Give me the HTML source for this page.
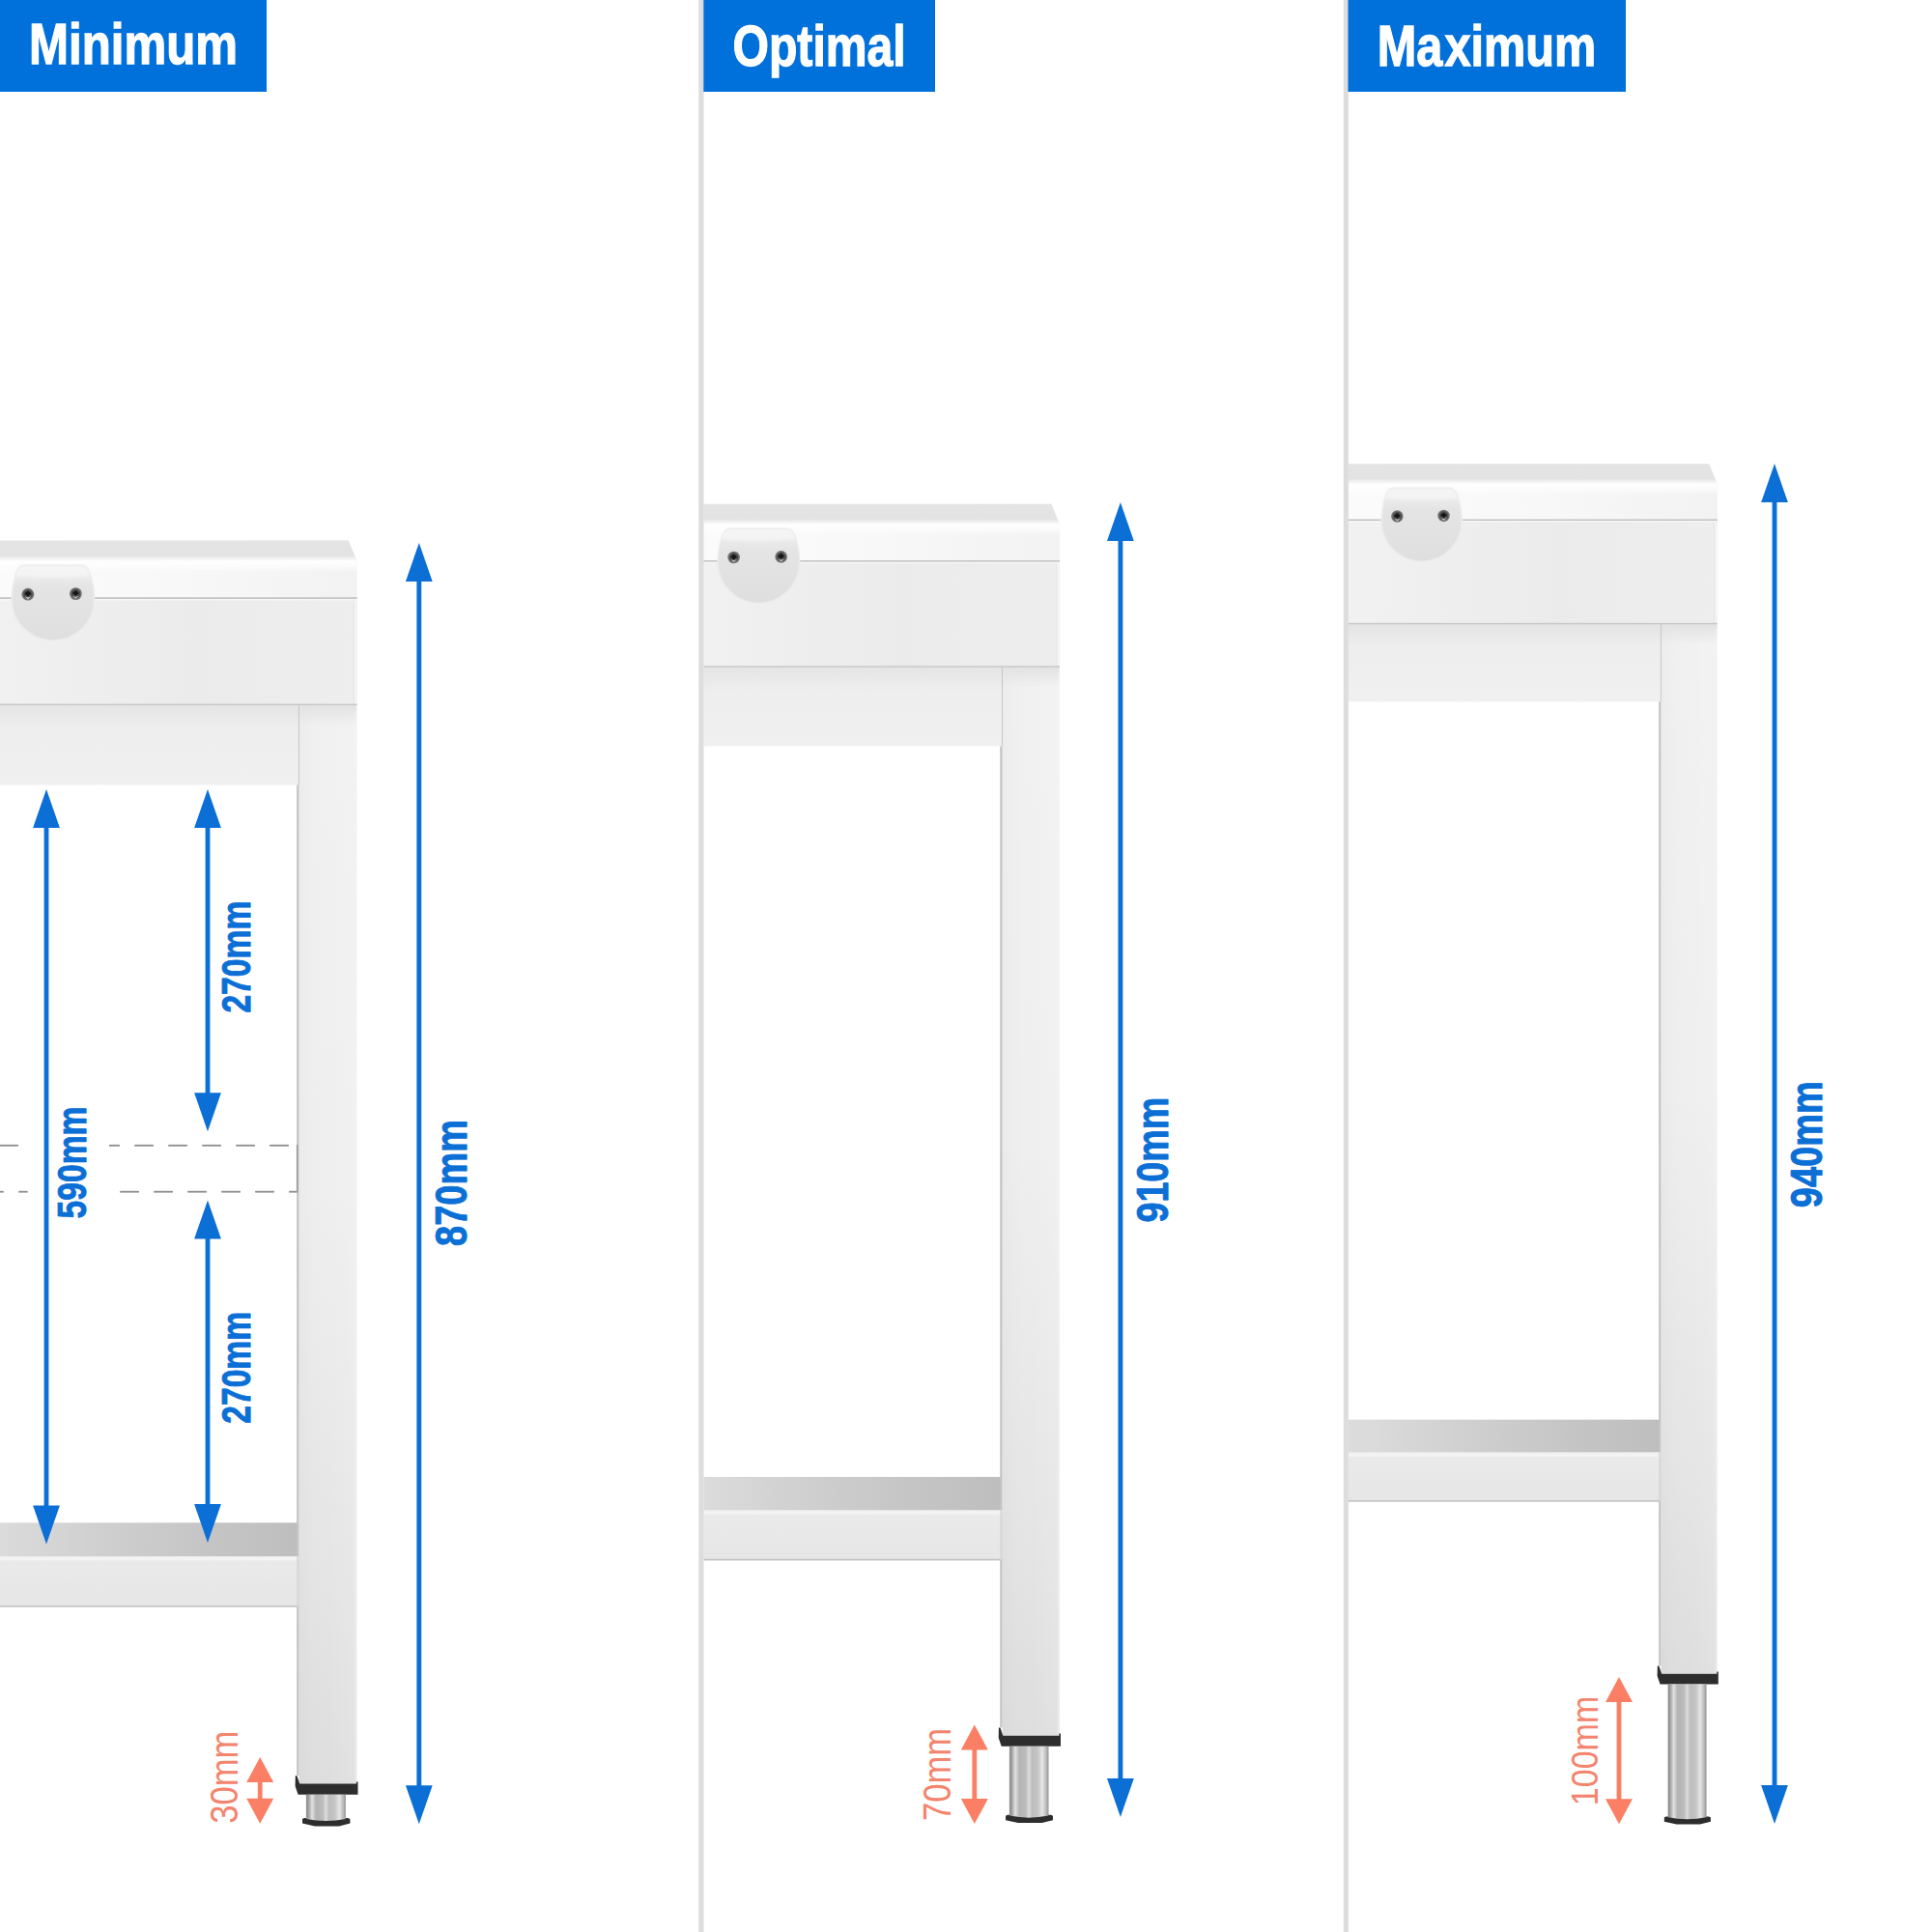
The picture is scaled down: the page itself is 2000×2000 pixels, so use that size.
<!DOCTYPE html>
<html lang="en">
<head>
<meta charset="utf-8">
<title>Table height: Minimum / Optimal / Maximum</title>
<style>
html,body{margin:0;padding:0;background:#fff;}
body{width:2000px;height:2000px;overflow:hidden;}
svg{display:block;}
text{font-family:"Liberation Sans",Arial,Helvetica,sans-serif;}
</style>
</head>
<body>
<svg width="2000" height="2000" viewBox="0 0 2000 2000">
<defs>
<clipPath id="clip0"><rect x="0" y="0" width="723" height="2000"/></clipPath>
<clipPath id="clip1"><rect x="728.4" y="0" width="662" height="2000"/></clipPath>
<clipPath id="clip2"><rect x="1395.8" y="0" width="605" height="2000"/></clipPath>
<linearGradient id="gTop" gradientUnits="userSpaceOnUse" x1="0" y1="559.4" x2="0" y2="619.5">
<stop offset="0" stop-color="#e4e4e4"/><stop offset="0.26" stop-color="#e3e3e3"/><stop offset="0.36" stop-color="#fefefe"/><stop offset="0.42" stop-color="#fefefe" stop-opacity="0.8"/><stop offset="0.55" stop-color="#fff" stop-opacity="0"/><stop offset="1" stop-color="#fff" stop-opacity="0"/>
</linearGradient>
<linearGradient id="gTopH" gradientUnits="userSpaceOnUse" x1="0" y1="0" x2="369" y2="0">
<stop offset="0" stop-color="#fbfbfb"/><stop offset="0.5" stop-color="#f8f8f8"/><stop offset="1" stop-color="#f2f2f2"/>
</linearGradient>
<linearGradient id="gPanel" gradientUnits="userSpaceOnUse" x1="0" y1="0" x2="369" y2="0">
<stop offset="0" stop-color="#f1f1f1"/><stop offset="0.55" stop-color="#ebebeb"/><stop offset="1" stop-color="#eeeeee"/>
</linearGradient>
<linearGradient id="gBeam" gradientUnits="userSpaceOnUse" x1="0" y1="729.5" x2="0" y2="812.5">
<stop offset="0" stop-color="#e4e4e4"/><stop offset="0.3" stop-color="#eeeeee"/><stop offset="1" stop-color="#f0f0f0"/>
</linearGradient>
<linearGradient id="gLeg" gradientUnits="userSpaceOnUse" x1="0" y1="729.5" x2="0" y2="1846">
<stop offset="0" stop-color="#f1f1f1"/><stop offset="0.45" stop-color="#efefef"/><stop offset="0.8" stop-color="#e5e5e5"/><stop offset="1" stop-color="#dedede"/>
</linearGradient>
<linearGradient id="gLegTop" gradientUnits="userSpaceOnUse" x1="0" y1="729.5" x2="0" y2="751.5">
<stop offset="0" stop-color="#e2e2e2"/><stop offset="1" stop-color="#e2e2e2" stop-opacity="0"/>
</linearGradient>
<linearGradient id="gLegH" gradientUnits="userSpaceOnUse" x1="309.5" y1="0" x2="369.3" y2="0">
<stop offset="0" stop-color="#000" stop-opacity="0.02"/><stop offset="0.5" stop-color="#fff" stop-opacity="0"/><stop offset="1" stop-color="#fff" stop-opacity="0.12"/>
</linearGradient>
<linearGradient id="gEdge" gradientUnits="userSpaceOnUse" x1="307.3" y1="0" x2="309.7" y2="0">
<stop offset="0" stop-color="#b4b4b4"/><stop offset="1" stop-color="#d4d4d4"/>
</linearGradient>
<linearGradient id="gShelf" gradientUnits="userSpaceOnUse" x1="0" y1="0" x2="308" y2="0">
<stop offset="0" stop-color="#dbdbdb"/><stop offset="0.35" stop-color="#cfcfcf"/><stop offset="0.7" stop-color="#c5c5c5"/><stop offset="1" stop-color="#bebebe"/>
</linearGradient>
<linearGradient id="gLBeam" gradientUnits="userSpaceOnUse" x1="0" y1="1611" x2="0" y2="1663.4">
<stop offset="0" stop-color="#ececec"/><stop offset="0.12" stop-color="#eaeaea"/><stop offset="1" stop-color="#e6e6e6"/>
</linearGradient>
<linearGradient id="gCyl" gradientUnits="userSpaceOnUse" x1="316.9" y1="0" x2="357.9" y2="0">
<stop offset="0" stop-color="#8a8a8a"/><stop offset="0.06" stop-color="#a0a0a0"/><stop offset="0.15" stop-color="#e2e2e2"/><stop offset="0.25" stop-color="#b4b4b4"/><stop offset="0.42" stop-color="#bcbcbc"/><stop offset="0.5" stop-color="#dcdcdc"/><stop offset="0.58" stop-color="#bdbdbd"/><stop offset="0.72" stop-color="#c4c4c4"/><stop offset="0.84" stop-color="#e6e6e6"/><stop offset="0.93" stop-color="#bdbdbd"/><stop offset="1" stop-color="#959595"/>
</linearGradient>
<linearGradient id="gBr" gradientUnits="userSpaceOnUse" x1="0" y1="585" x2="0" y2="663">
<stop offset="0" stop-color="#f2f2f2"/><stop offset="0.3" stop-color="#e4e4e4"/><stop offset="1" stop-color="#dfdfdf"/>
</linearGradient>
<filter id="fBlur" x="-10%" y="-10%" width="120%" height="120%"><feGaussianBlur stdDeviation="0.7"/></filter>
<filter id="fBlur2" x="-10%" y="-30%" width="120%" height="160%"><feGaussianBlur stdDeviation="1.5"/></filter>
</defs>
<rect x="0" y="0" width="2000" height="2000" fill="#fff"/>

<g clip-path="url(#clip0)">
<g transform="translate(369.5,559.4) scale(1.0) translate(-369.5,-559.4)">
<path d="M-400,559.4 H360.7 L369.6,581 V619.5 H-400 Z" fill="url(#gTopH)"/>
<path d="M-400,559.4 H360.7 L369.6,581 V619.5 H-400 Z" fill="url(#gTop)"/>
<rect x="-400" y="619.5" width="769.6" height="110" fill="url(#gPanel)"/>
<rect x="366.6" y="622" width="3" height="107" fill="#f4f4f4"/>
<rect x="365.9" y="622" width="0.8" height="107" fill="#e2e2e2"/>
<rect x="-400" y="618.3" width="769.6" height="1.7" fill="#c2c2c2"/>
<rect x="-400" y="620" width="769.6" height="1.6" fill="#f6f6f6"/>
<rect x="-400" y="729.5" width="709.5" height="83" fill="url(#gBeam)"/>
<rect x="309.5" y="729.5" width="59.8" height="1117.0" fill="url(#gLeg)"/>
<rect x="309.5" y="729.5" width="59.8" height="1117.0" fill="url(#gLegH)"/>
<rect x="309.5" y="729.5" width="59.8" height="22" fill="url(#gLegTop)"/>
<rect x="367.3" y="735" width="2" height="1111.0" fill="#f3f3f3" opacity="0.45"/>
<rect x="308.9" y="729.5" width="1" height="83" fill="#c6c6c6"/>
<rect x="307.3" y="812.5" width="2.4" height="1025.5" fill="url(#gEdge)"/>
<rect x="-400" y="728.6" width="769.6" height="1.5" fill="#c8c8c8"/>
<rect x="-400" y="1576.3" width="707.6" height="35" fill="url(#gShelf)"/>
<rect x="-400" y="1611" width="709.5" height="52.4" fill="url(#gLBeam)"/>
<rect x="-400" y="1612" width="709.5" height="3.4" fill="#f3f3f3"/>
<rect x="-400" y="1662" width="709.5" height="1.6" fill="#c2c2c2"/>
<rect x="307.3" y="1611" width="2.2" height="52.4" fill="#d6d6d6"/>
<path d="M305.8,1838.3 H307.4 L310.2,1846.6 H368.9 V1844.5 H370.5 V1857.7 H308.6 L305.6,1849.0 Z" fill="#2d2d2d"/>
<path d="M313,1883.0 L315,1882.1 H360.2 L362.4,1883.0 V1887.5 L351,1890.5 H326 L313,1887.5 Z" fill="#2d2d2d"/>
<path d="M316.9,1857.7 H357.9 V1882.9 Q337.4,1887.1 316.9,1882.9 Z" fill="url(#gCyl)"/>
<path d="M24,585.2 H85 Q91.2,585.8 93.4,594.5 Q97.2,606 97.6,620.5 A42.7,42.7 0 0 1 12.2,620.5 Q12.6,606 16.4,594.5 Q18.6,585.8 24,585.2 Z" fill="url(#gBr)" stroke="#ececec" stroke-width="1.6" filter="url(#fBlur)"/>
<path d="M22,586.5 H87 Q92,588 93,596 Q55,600 16,596 Q17,588 22,586.5 Z" fill="#f6f6f6" opacity="0.8" filter="url(#fBlur2)"/>
<circle cx="28.9" cy="615.2" r="6.4" fill="#747474"/>
<circle cx="28.9" cy="615.2" r="4.8" fill="#4c4c4c"/>
<path d="M25.299999999999997,614.6 L28.9,611.6 L32.3,614.6 L28.9,617.4000000000001 Z" fill="#151515"/>
<path d="M25.7,617.6 L28.9,620.4000000000001 L32.3,617.2 L28.9,618.6 Z" fill="#c9c9c9"/>
<circle cx="78.4" cy="614.6" r="6.4" fill="#747474"/>
<circle cx="78.4" cy="614.6" r="4.8" fill="#4c4c4c"/>
<path d="M74.80000000000001,614.0 L78.4,611.0 L81.80000000000001,614.0 L78.4,616.8000000000001 Z" fill="#151515"/>
<path d="M75.2,617.0 L78.4,619.8000000000001 L81.80000000000001,616.6 L78.4,618.0 Z" fill="#c9c9c9"/>
</g></g>
<g clip-path="url(#clip1)">
<g transform="translate(1097.0,521.7) scale(0.9905) translate(-369.5,-559.4)">
<path d="M-400,559.4 H360.7 L369.6,581 V619.5 H-400 Z" fill="url(#gTopH)"/>
<path d="M-400,559.4 H360.7 L369.6,581 V619.5 H-400 Z" fill="url(#gTop)"/>
<rect x="-400" y="619.5" width="769.6" height="110" fill="url(#gPanel)"/>
<rect x="366.6" y="622" width="3" height="107" fill="#f4f4f4"/>
<rect x="365.9" y="622" width="0.8" height="107" fill="#e2e2e2"/>
<rect x="-400" y="618.3" width="769.6" height="1.7" fill="#c2c2c2"/>
<rect x="-400" y="620" width="769.6" height="1.6" fill="#f6f6f6"/>
<rect x="-400" y="729.5" width="709.5" height="83" fill="url(#gBeam)"/>
<rect x="309.5" y="729.5" width="59.8" height="1117.0" fill="url(#gLeg)"/>
<rect x="309.5" y="729.5" width="59.8" height="1117.0" fill="url(#gLegH)"/>
<rect x="309.5" y="729.5" width="59.8" height="22" fill="url(#gLegTop)"/>
<rect x="367.3" y="735" width="2" height="1111.0" fill="#f3f3f3" opacity="0.45"/>
<rect x="308.9" y="729.5" width="1" height="83" fill="#c6c6c6"/>
<rect x="307.3" y="812.5" width="2.4" height="1025.5" fill="url(#gEdge)"/>
<rect x="-400" y="728.6" width="769.6" height="1.5" fill="#c8c8c8"/>
<rect x="-400" y="1576.3" width="707.6" height="35" fill="url(#gShelf)"/>
<rect x="-400" y="1611" width="709.5" height="52.4" fill="url(#gLBeam)"/>
<rect x="-400" y="1612" width="709.5" height="3.4" fill="#f3f3f3"/>
<rect x="-400" y="1662" width="709.5" height="1.6" fill="#c2c2c2"/>
<rect x="307.3" y="1611" width="2.2" height="52.4" fill="#d6d6d6"/>
<path d="M305.8,1838.3 H307.4 L310.2,1846.6 H368.9 V1844.5 H370.5 V1857.7 H308.6 L305.6,1849.0 Z" fill="#2d2d2d"/>
<path d="M313,1930.4 L315,1929.5 H360.2 L362.4,1930.4 V1934.9 L351,1937.9 H326 L313,1934.9 Z" fill="#2d2d2d"/>
<path d="M316.9,1857.7 H357.9 V1930.3000000000002 Q337.4,1934.5 316.9,1930.3000000000002 Z" fill="url(#gCyl)"/>
<path d="M24,585.2 H85 Q91.2,585.8 93.4,594.5 Q97.2,606 97.6,620.5 A42.7,42.7 0 0 1 12.2,620.5 Q12.6,606 16.4,594.5 Q18.6,585.8 24,585.2 Z" fill="url(#gBr)" stroke="#ececec" stroke-width="1.6" filter="url(#fBlur)"/>
<path d="M22,586.5 H87 Q92,588 93,596 Q55,600 16,596 Q17,588 22,586.5 Z" fill="#f6f6f6" opacity="0.8" filter="url(#fBlur2)"/>
<circle cx="28.9" cy="615.2" r="6.4" fill="#747474"/>
<circle cx="28.9" cy="615.2" r="4.8" fill="#4c4c4c"/>
<path d="M25.299999999999997,614.6 L28.9,611.6 L32.3,614.6 L28.9,617.4000000000001 Z" fill="#151515"/>
<path d="M25.7,617.6 L28.9,620.4000000000001 L32.3,617.2 L28.9,618.6 Z" fill="#c9c9c9"/>
<circle cx="78.4" cy="614.6" r="6.4" fill="#747474"/>
<circle cx="78.4" cy="614.6" r="4.8" fill="#4c4c4c"/>
<path d="M74.80000000000001,614.0 L78.4,611.0 L81.80000000000001,614.0 L78.4,616.8000000000001 Z" fill="#151515"/>
<path d="M75.2,617.0 L78.4,619.8000000000001 L81.80000000000001,616.6 L78.4,618.0 Z" fill="#c9c9c9"/>
</g></g>
<g clip-path="url(#clip2)">
<g transform="translate(1777.8,480.2) scale(0.973) translate(-369.5,-559.4)">
<path d="M-400,559.4 H360.7 L369.6,581 V619.5 H-400 Z" fill="url(#gTopH)"/>
<path d="M-400,559.4 H360.7 L369.6,581 V619.5 H-400 Z" fill="url(#gTop)"/>
<rect x="-400" y="619.5" width="769.6" height="110" fill="url(#gPanel)"/>
<rect x="366.6" y="622" width="3" height="107" fill="#f4f4f4"/>
<rect x="365.9" y="622" width="0.8" height="107" fill="#e2e2e2"/>
<rect x="-400" y="618.3" width="769.6" height="1.7" fill="#c2c2c2"/>
<rect x="-400" y="620" width="769.6" height="1.6" fill="#f6f6f6"/>
<rect x="-400" y="729.5" width="709.5" height="83" fill="url(#gBeam)"/>
<rect x="309.5" y="729.5" width="59.8" height="1117.0" fill="url(#gLeg)"/>
<rect x="309.5" y="729.5" width="59.8" height="1117.0" fill="url(#gLegH)"/>
<rect x="309.5" y="729.5" width="59.8" height="22" fill="url(#gLegTop)"/>
<rect x="367.3" y="735" width="2" height="1111.0" fill="#f3f3f3" opacity="0.45"/>
<rect x="308.9" y="729.5" width="1" height="83" fill="#c6c6c6"/>
<rect x="307.3" y="812.5" width="2.4" height="1025.5" fill="url(#gEdge)"/>
<rect x="-400" y="728.6" width="769.6" height="1.5" fill="#c8c8c8"/>
<rect x="-400" y="1576.3" width="707.6" height="35" fill="url(#gShelf)"/>
<rect x="-400" y="1611" width="709.5" height="52.4" fill="url(#gLBeam)"/>
<rect x="-400" y="1612" width="709.5" height="3.4" fill="#f3f3f3"/>
<rect x="-400" y="1662" width="709.5" height="1.6" fill="#c2c2c2"/>
<rect x="307.3" y="1611" width="2.2" height="52.4" fill="#d6d6d6"/>
<path d="M305.8,1838.3 H307.4 L310.2,1846.6 H368.9 V1844.5 H370.5 V1857.7 H308.6 L305.6,1849.0 Z" fill="#2d2d2d"/>
<path d="M313,1999.4 L315,1998.5 H360.2 L362.4,1999.4 V2003.9 L351,2006.9 H326 L313,2003.9 Z" fill="#2d2d2d"/>
<path d="M316.9,1857.7 H357.9 V1999.3000000000002 Q337.4,2003.5 316.9,1999.3000000000002 Z" fill="url(#gCyl)"/>
<path d="M24,585.2 H85 Q91.2,585.8 93.4,594.5 Q97.2,606 97.6,620.5 A42.7,42.7 0 0 1 12.2,620.5 Q12.6,606 16.4,594.5 Q18.6,585.8 24,585.2 Z" fill="url(#gBr)" stroke="#ececec" stroke-width="1.6" filter="url(#fBlur)"/>
<path d="M22,586.5 H87 Q92,588 93,596 Q55,600 16,596 Q17,588 22,586.5 Z" fill="#f6f6f6" opacity="0.8" filter="url(#fBlur2)"/>
<circle cx="28.9" cy="615.2" r="6.4" fill="#747474"/>
<circle cx="28.9" cy="615.2" r="4.8" fill="#4c4c4c"/>
<path d="M25.299999999999997,614.6 L28.9,611.6 L32.3,614.6 L28.9,617.4000000000001 Z" fill="#151515"/>
<path d="M25.7,617.6 L28.9,620.4000000000001 L32.3,617.2 L28.9,618.6 Z" fill="#c9c9c9"/>
<circle cx="78.4" cy="614.6" r="6.4" fill="#747474"/>
<circle cx="78.4" cy="614.6" r="4.8" fill="#4c4c4c"/>
<path d="M74.80000000000001,614.0 L78.4,611.0 L81.80000000000001,614.0 L78.4,616.8000000000001 Z" fill="#151515"/>
<path d="M75.2,617.0 L78.4,619.8000000000001 L81.80000000000001,616.6 L78.4,618.0 Z" fill="#c9c9c9"/>
</g></g>
<rect x="723.3" y="0" width="5.2" height="2000" fill="#dddddd"/>
<rect x="1390.8" y="0" width="5.1" height="2000" fill="#dddddd"/>
<rect x="0" y="0" width="276" height="95" fill="#0070db"/>
<rect x="728.3" y="0" width="239.7" height="95" fill="#0070db"/>
<rect x="1395.5" y="0" width="287.5" height="95" fill="#0070db"/>
<text x="30" y="66.4" font-size="60" font-weight="bold" fill="#fff" stroke="#fff" stroke-width="1.3" textLength="216" lengthAdjust="spacingAndGlyphs">Minimum</text>
<text x="758.6" y="67.8" font-size="60" font-weight="bold" fill="#fff" stroke="#fff" stroke-width="1.3" textLength="179" lengthAdjust="spacingAndGlyphs">Optimal</text>
<text x="1425.8" y="68" font-size="60" font-weight="bold" fill="#fff" stroke="#fff" stroke-width="1.3" textLength="226.5" lengthAdjust="spacingAndGlyphs" dx="0 0 2.5">Maximum</text>
<rect x="0" y="1184.9" width="18.9" height="1.8" fill="#8e8e8e"/>
<rect x="113" y="1184.9" width="10.9" height="1.8" fill="#8e8e8e"/>
<rect x="139.2" y="1184.9" width="19.7" height="1.8" fill="#8e8e8e"/>
<rect x="174.2" y="1184.9" width="19.7" height="1.8" fill="#8e8e8e"/>
<rect x="209.2" y="1184.9" width="19.7" height="1.8" fill="#8e8e8e"/>
<rect x="244.2" y="1184.9" width="19.7" height="1.8" fill="#8e8e8e"/>
<rect x="279.2" y="1184.9" width="19.7" height="1.8" fill="#8e8e8e"/>
<rect x="0" y="1232.8" width="3.8" height="1.8" fill="#8e8e8e"/>
<rect x="19.2" y="1232.8" width="9.5" height="1.8" fill="#8e8e8e"/>
<rect x="124.2" y="1232.8" width="19.7" height="1.8" fill="#8e8e8e"/>
<rect x="159.2" y="1232.8" width="19.7" height="1.8" fill="#8e8e8e"/>
<rect x="194.2" y="1232.8" width="19.7" height="1.8" fill="#8e8e8e"/>
<rect x="229.2" y="1232.8" width="19.7" height="1.8" fill="#8e8e8e"/>
<rect x="264.2" y="1232.8" width="19.7" height="1.8" fill="#8e8e8e"/>
<rect x="299.2" y="1232.8" width="8.2" height="1.8" fill="#8e8e8e"/>
<rect x="306.9" y="1185" width="1.6" height="49.5" fill="#9a9a9a"/>
<rect x="45.6" y="856.0" width="4.8" height="703.5999999999999" fill="#0b6fd6"/>
<path d="M48.0,817.0 L61.9,857.0 H34.1 Z" fill="#0b6fd6"/>
<path d="M48.0,1598.6 L61.9,1558.6 H34.1 Z" fill="#0b6fd6"/>
<rect x="212.6" y="856.0" width="4.8" height="276.20000000000005" fill="#0b6fd6"/>
<path d="M215.0,817.0 L228.9,857.0 H201.1 Z" fill="#0b6fd6"/>
<path d="M215.0,1171.2 L228.9,1131.2 H201.1 Z" fill="#0b6fd6"/>
<rect x="212.6" y="1281.4" width="4.8" height="276.5999999999999" fill="#0b6fd6"/>
<path d="M215.0,1242.4 L228.9,1282.4 H201.1 Z" fill="#0b6fd6"/>
<path d="M215.0,1597 L228.9,1557.0 H201.1 Z" fill="#0b6fd6"/>
<rect x="431.35" y="601.0" width="4.9" height="1248.2" fill="#0b6fd6"/>
<path d="M433.8,562.0 L447.7,602.0 H419.90000000000003 Z" fill="#0b6fd6"/>
<path d="M433.8,1888.2 L447.7,1848.2 H419.90000000000003 Z" fill="#0b6fd6"/>
<rect x="1157.45" y="559.1" width="4.9" height="1282.8000000000002" fill="#0b6fd6"/>
<path d="M1159.9,520.1 L1173.8000000000002,560.1 H1146.0 Z" fill="#0b6fd6"/>
<path d="M1159.9,1880.9 L1173.8000000000002,1840.9 H1146.0 Z" fill="#0b6fd6"/>
<rect x="1834.55" y="519.1" width="4.9" height="1329.9" fill="#0b6fd6"/>
<path d="M1837.0,480.1 L1850.9,520.1 H1823.1 Z" fill="#0b6fd6"/>
<path d="M1837.0,1888.0 L1850.9,1848.0 H1823.1 Z" fill="#0b6fd6"/>
<text transform="translate(259.0,1048.6) rotate(-90)" font-size="43" font-weight="bold" fill="#0b6fd6" stroke="#0b6fd6" stroke-width="0.9" stroke-linejoin="round" textLength="116" lengthAdjust="spacingAndGlyphs">270mm</text>
<text transform="translate(259.0,1473.8) rotate(-90)" font-size="43" font-weight="bold" fill="#0b6fd6" stroke="#0b6fd6" stroke-width="0.9" stroke-linejoin="round" textLength="116" lengthAdjust="spacingAndGlyphs">270mm</text>
<text transform="translate(88.7,1261.5) rotate(-90)" font-size="43" font-weight="bold" fill="#0b6fd6" stroke="#0b6fd6" stroke-width="0.9" stroke-linejoin="round" textLength="116" lengthAdjust="spacingAndGlyphs">590mm</text>
<text transform="translate(482.5,1290) rotate(-90)" font-size="46.5" font-weight="bold" fill="#0b6fd6" stroke="#0b6fd6" stroke-width="0.9" stroke-linejoin="round" textLength="131" lengthAdjust="spacingAndGlyphs">870mm</text>
<text transform="translate(1208.7,1265.6) rotate(-90)" font-size="46.5" font-weight="bold" fill="#0b6fd6" stroke="#0b6fd6" stroke-width="0.9" stroke-linejoin="round" textLength="130" lengthAdjust="spacingAndGlyphs">910mm</text>
<text transform="translate(1886.2,1250.2) rotate(-90)" font-size="46.5" font-weight="bold" fill="#0b6fd6" stroke="#0b6fd6" stroke-width="0.9" stroke-linejoin="round" textLength="131" lengthAdjust="spacingAndGlyphs">940mm</text>
<rect x="266.8" y="1844" width="4.8" height="18.799999999999955" fill="#fa7f64"/>
<path d="M269.2,1819 L283.2,1845 H255.2 Z" fill="#fa7f64"/>
<path d="M269.2,1887.8 L283.2,1861.8 H255.2 Z" fill="#fa7f64"/>
<rect x="1006.4" y="1810.5" width="4.8" height="52.59999999999991" fill="#fa7f64"/>
<path d="M1008.8,1785.5 L1022.8,1811.5 H994.8 Z" fill="#fa7f64"/>
<path d="M1008.8,1888.1 L1022.8,1862.1 H994.8 Z" fill="#fa7f64"/>
<rect x="1673.6" y="1761" width="4.8" height="102.20000000000005" fill="#fa7f64"/>
<path d="M1676.0,1736 L1690.0,1762 H1662.0 Z" fill="#fa7f64"/>
<path d="M1676.0,1888.2 L1690.0,1862.2 H1662.0 Z" fill="#fa7f64"/>
<text transform="translate(246.0,1887.8) rotate(-90)" font-size="40" font-weight="normal" fill="#f3846d" textLength="96" lengthAdjust="spacingAndGlyphs">30mm</text>
<text transform="translate(984.0,1885.0) rotate(-90)" font-size="40" font-weight="normal" fill="#f3846d" textLength="96" lengthAdjust="spacingAndGlyphs">70mm</text>
<text transform="translate(1654.2,1869.2) rotate(-90)" font-size="39.5" font-weight="normal" fill="#f3846d" textLength="113.5" lengthAdjust="spacingAndGlyphs">100mm</text>
</svg>
</body>
</html>
